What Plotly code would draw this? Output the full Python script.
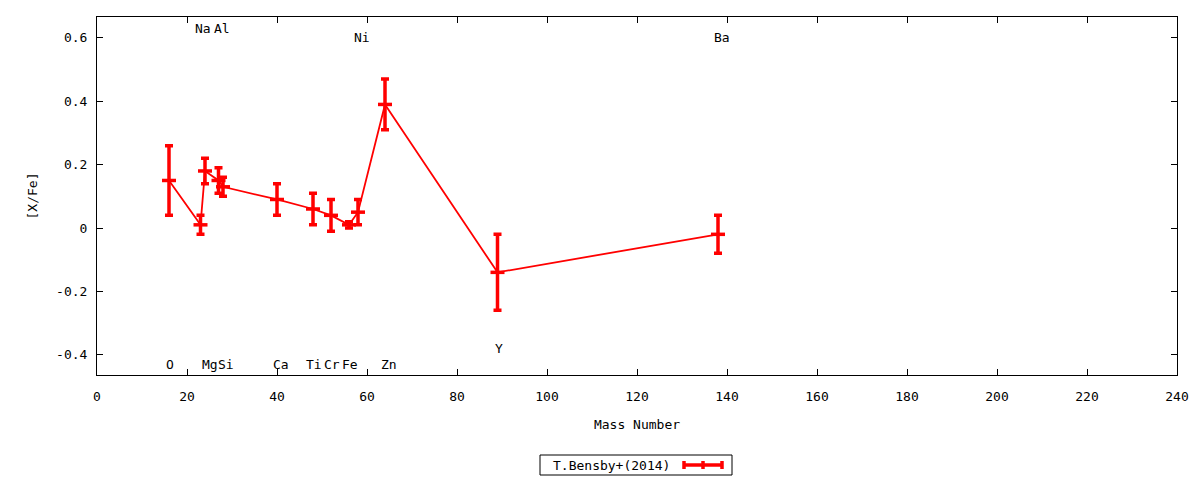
import plotly.graph_objects as go

# ---- data ----
elements = ["O", "Na", "Mg", "Al", "Si", "Ca", "Ti", "Cr", "Fe", "Ni", "Zn", "Y", "Ba"]
mass_number = [16, 23, 24, 27, 28, 40, 48, 52, 56, 58, 64, 89, 138]
x_fe = [0.15, 0.01, 0.18, 0.15, 0.13, 0.09, 0.06, 0.04, 0.01, 0.05, 0.39, -0.14, -0.02]
x_fe_err = [0.11, 0.03, 0.04, 0.04, 0.03, 0.05, 0.05, 0.05, 0.01, 0.04, 0.08, 0.12, 0.06]

label_text = ["O", "Na", "Mg", "Al", "Si", "Ca", "Ti", "Cr", "Fe", "Ni", "Zn", "Y", "Ba"]
label_x = [16.2, 23.5, 25.0, 27.8, 28.7, 40.9, 48.3, 52.2, 56.3, 58.8, 64.9, 89.3, 138.9]
label_y = [-0.43, 0.63, -0.43, 0.63, -0.43, -0.43, -0.43, -0.43, -0.43, 0.60, -0.43, -0.38, 0.60]

x_ticks = list(range(0, 241, 20))
y_ticks = [-0.4, -0.2, 0.0, 0.2, 0.4, 0.6]
y_tick_text = ["-0.4", "-0.2", "0", "0.2", "0.4", "0.6"]

series_name = "T.Bensby+(2014)"

FONT = "DejaVu Sans Mono"
RED = "#ff0000"

fig = go.Figure()
fig.add_trace(go.Scatter(
    x=mass_number, y=x_fe,
    mode="lines+markers",
    name=series_name,
    line=dict(color=RED, width=1.8),
    marker=dict(symbol="line-ew", size=10, color=RED, line=dict(color=RED, width=3.5)),
    error_y=dict(type="data", array=x_fe_err, visible=True, color=RED, thickness=3.5, width=4),
    showlegend=False,
))

annotations = []
for t, lx, ly in zip(label_text, label_x, label_y):
    annotations.append(dict(x=lx, y=ly, xref="x", yref="y", text=t, showarrow=False,
                            xanchor="center", yanchor="middle",
                            font=dict(family=FONT, size=13, color="black")))

# legend box (gnuplot style: text then sample); page-pixel helpers for plot area 97..1177 x 17..375
def px2x(px):
    return (px - 97) / 1080.0

def py2y(py):
    return (375 - py) / 358.0

annotations.append(dict(x=px2x(611), y=py2y(465), xref="paper", yref="paper",
                        text=series_name, showarrow=False, xanchor="center", yanchor="middle",
                        font=dict(family=FONT, size=13, color="black")))

shapes = [
    dict(type="rect", xref="paper", yref="paper", x0=px2x(540), x1=px2x(732),
         y0=py2y(475), y1=py2y(455), line=dict(color="black", width=1)),
    dict(type="line", xref="paper", yref="paper", x0=px2x(683), x1=px2x(723),
         y0=py2y(465), y1=py2y(465), line=dict(color=RED, width=3.5)),
]
for cx in (684, 703, 722):
    shapes.append(dict(type="line", xref="paper", yref="paper", x0=px2x(cx), x1=px2x(cx),
                       y0=py2y(469), y1=py2y(461), line=dict(color=RED, width=3.5)))

fig.update_layout(
    width=1192, height=472,
    margin=dict(l=89, r=23, t=9, b=105, pad=0),
    paper_bgcolor="white", plot_bgcolor="white",
    font=dict(family=FONT, size=13, color="black"),
    annotations=annotations,
    shapes=shapes,
    xaxis=dict(
        range=[0, 240], tickvals=x_ticks, ticks="inside", ticklen=6, tickcolor="black",
        showline=True, linecolor="black", linewidth=1, mirror="ticks",
        showgrid=False, zeroline=False, ticklabelstandoff=9,
        title=dict(text="Mass Number", standoff=17, font=dict(family=FONT, size=13)),
        tickfont=dict(family=FONT, size=13),
    ),
    yaxis=dict(
        range=[-0.464, 0.666], tickvals=y_ticks, ticktext=y_tick_text,
        ticks="inside", ticklen=6, tickcolor="black",
        showline=True, linecolor="black", linewidth=1, mirror="ticks",
        showgrid=False, zeroline=False, ticklabelstandoff=6,
        title=dict(text="[X/Fe]", standoff=15, font=dict(family=FONT, size=13)),
        tickfont=dict(family=FONT, size=13),
    ),
)

fig.write_html("out.html")
